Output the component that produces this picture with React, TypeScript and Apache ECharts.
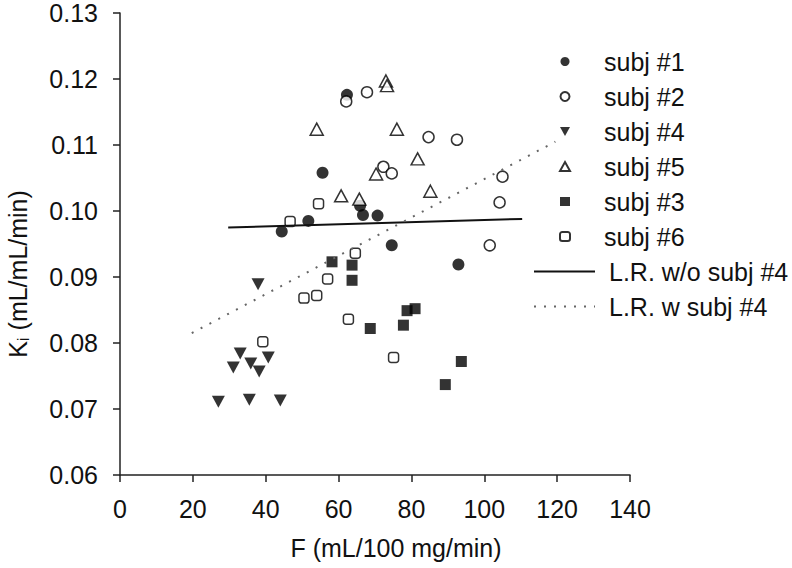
import React, { useEffect, useRef } from "react";
import * as echarts from "echarts";

// subj #1 (filled circles)
const subj1F = [62.3, 55.6, 65.9, 66.7, 70.7, 51.7, 44.4, 74.6, 92.9];
const subj1Ki = [0.1176, 0.1058, 0.1008, 0.0994, 0.0993, 0.0985, 0.0969, 0.0948, 0.0919];
// subj #2 (open circles)
const subj2F = [62.1, 67.8, 84.7, 92.5, 72.3, 74.6, 105.0, 104.2, 101.5];
const subj2Ki = [0.1166, 0.118, 0.1112, 0.1108, 0.1067, 0.1057, 0.1052, 0.1013, 0.0948];
// subj #4 (filled down triangles)
const subj4F = [33.0, 40.7, 31.1, 35.9, 38.2, 27.0, 35.5, 44.0, 37.9];
const subj4Ki = [0.0784, 0.0778, 0.0763, 0.0769, 0.0757, 0.0711, 0.0714, 0.0713, 0.0889];
// subj #5 (open triangles)
const subj5F = [73.0, 73.3, 54.0, 76.0, 81.7, 70.3, 85.2, 60.7, 65.7];
const subj5Ki = [0.1197, 0.119, 0.1124, 0.1124, 0.1079, 0.1056, 0.103, 0.1023, 0.1018];
// subj #3 (filled squares)
const subj3F = [58.2, 63.7, 63.7, 68.7, 78.8, 81.0, 77.8, 93.7, 89.3];
const subj3Ki = [0.0923, 0.0918, 0.0895, 0.0822, 0.0849, 0.0852, 0.0827, 0.0772, 0.0737];
// subj #6 (open squares)
const subj6F = [54.5, 46.7, 64.6, 57.0, 50.5, 54.0, 62.7, 75.1, 39.2];
const subj6Ki = [0.1011, 0.0984, 0.0936, 0.0897, 0.0868, 0.0872, 0.0836, 0.0778, 0.0802];
// regression line end points
const lrWithoutF = [29.7, 110.4];
const lrWithoutKi = [0.0975, 0.0988];
const lrWithF = [19.7, 119.5];
const lrWithKi = [0.0815, 0.1105];

const xTicks = { min: 0, max: 140, interval: 20 };
const yTicks = { min: 0.06, max: 0.13, interval: 0.01 };

const pairs = (xs: number[], ys: number[]) => xs.map((x, i) => [x, ys[i]]);

const FONT = "Liberation Sans, Arial, sans-serif";
const DOWN_TRI = "path://M0,0 L10,0 L5,9 Z";

export default function App() {
  const ref = useRef<HTMLDivElement>(null);
  useEffect(() => {
    if (!ref.current) return;
    const chart = echarts.init(ref.current, null, { renderer: "svg" });
    const open = { color: "#fff", borderColor: "#000", borderWidth: 1.5 };
    const filled = { color: "#000" };
    chart.setOption({
      animation: false,
      textStyle: { fontFamily: FONT },
      grid: { left: 120, top: 13, right: 162, bottom: 93, containLabel: false },
      xAxis: {
        type: "value",
        min: xTicks.min,
        max: xTicks.max,
        interval: xTicks.interval,
        splitLine: { show: false },
        axisLine: { lineStyle: { color: "#222", width: 1.5 } },
        axisTick: { length: 7, lineStyle: { color: "#222", width: 1.5 } },
        axisLabel: { color: "#111", fontSize: 25, fontFamily: FONT, margin: 21 },
      },
      yAxis: {
        type: "value",
        min: yTicks.min,
        max: yTicks.max,
        interval: yTicks.interval,
        splitLine: { show: false },
        axisLine: { show: true, lineStyle: { color: "#222", width: 1.5 } },
        axisTick: { show: true, length: 7, lineStyle: { color: "#222", width: 1.5 } },
        axisLabel: {
          color: "#111",
          fontSize: 25,
          fontFamily: FONT,
          margin: 22,
          formatter: (v: number) => v.toFixed(2),
        },
      },
      legend: [
        {
          data: ["subj #1", "subj #2", "subj #4", "subj #5", "subj #3", "subj #6"],
          orient: "vertical",
          left: 554,
          top: 44,
          itemWidth: 10,
          itemHeight: 9,
          itemGap: 10,
          textStyle: { fontSize: 25, color: "#111", fontFamily: FONT, padding: [0, 0, 0, 29] },
        },
        {
          data: ["L.R. w/o subj #4", "L.R. w subj #4"],
          orient: "vertical",
          left: 528,
          top: 254,
          itemWidth: 61,
          itemHeight: 10,
          itemGap: 10,
          itemStyle: { color: "rgba(0,0,0,0)", borderColor: "rgba(0,0,0,0)", borderWidth: 0 },
          textStyle: { fontSize: 25, color: "#111", fontFamily: FONT, padding: [0, 0, 0, 9] },
        },
      ],
      series: [
        { name: "subj #1", type: "scatter", symbol: "circle", symbolSize: 12, itemStyle: filled, data: pairs(subj1F, subj1Ki) },
        { name: "subj #2", type: "scatter", symbol: "circle", symbolSize: 11, itemStyle: open, data: pairs(subj2F, subj2Ki) },
        { name: "subj #4", type: "scatter", symbol: DOWN_TRI, symbolSize: [13, 12], itemStyle: filled, data: pairs(subj4F, subj4Ki) },
        { name: "subj #5", type: "scatter", symbol: "triangle", symbolSize: [13, 12], itemStyle: open, data: pairs(subj5F, subj5Ki) },
        { name: "subj #3", type: "scatter", symbol: "rect", symbolSize: 11, itemStyle: filled, data: pairs(subj3F, subj3Ki) },
        { name: "subj #6", type: "scatter", symbol: "roundRect", symbolSize: 10, itemStyle: open, data: pairs(subj6F, subj6Ki) },
        {
          name: "L.R. w/o subj #4",
          type: "line",
          symbol: "none",
          showSymbol: false,
          itemStyle: { color: "#111" },
          lineStyle: { color: "#111", width: 2 },
          data: pairs(lrWithoutF, lrWithoutKi),
        },
        {
          name: "L.R. w subj #4",
          type: "line",
          symbol: "none",
          showSymbol: false,
          itemStyle: { color: "#666" },
          lineStyle: { color: "#666", width: 2, type: [2, 8] },
          data: pairs(lrWithF, lrWithKi),
        },
      ],
      graphic: [
        {
          type: "text",
          x: 18,
          y: 274,
          rotation: Math.PI / 2,
          style: {
            text: "K{sub|i} (mL/mL/min)",
            font: `25px ${FONT}`,
            fill: "#111",
            textAlign: "center",
            textVerticalAlign: "middle",
            rich: {
              sub: { fontSize: 17, fontFamily: FONT, fill: "#111", verticalAlign: "bottom", padding: [10, 0, 0, 0] },
            },
          },
        },
        {
          type: "text",
          x: 396,
          y: 548,
          style: {
            text: "F (mL/100 mg/min)",
            font: `25px ${FONT}`,
            fill: "#111",
            textAlign: "center",
            textVerticalAlign: "middle",
          },
        },
      ],
    });
    return () => chart.dispose();
  }, []);
  return (
    <div
      ref={ref}
      style={{ position: "fixed", left: 0, top: 0, width: 792, height: 568, background: "#fff" }}
    />
  );
}
